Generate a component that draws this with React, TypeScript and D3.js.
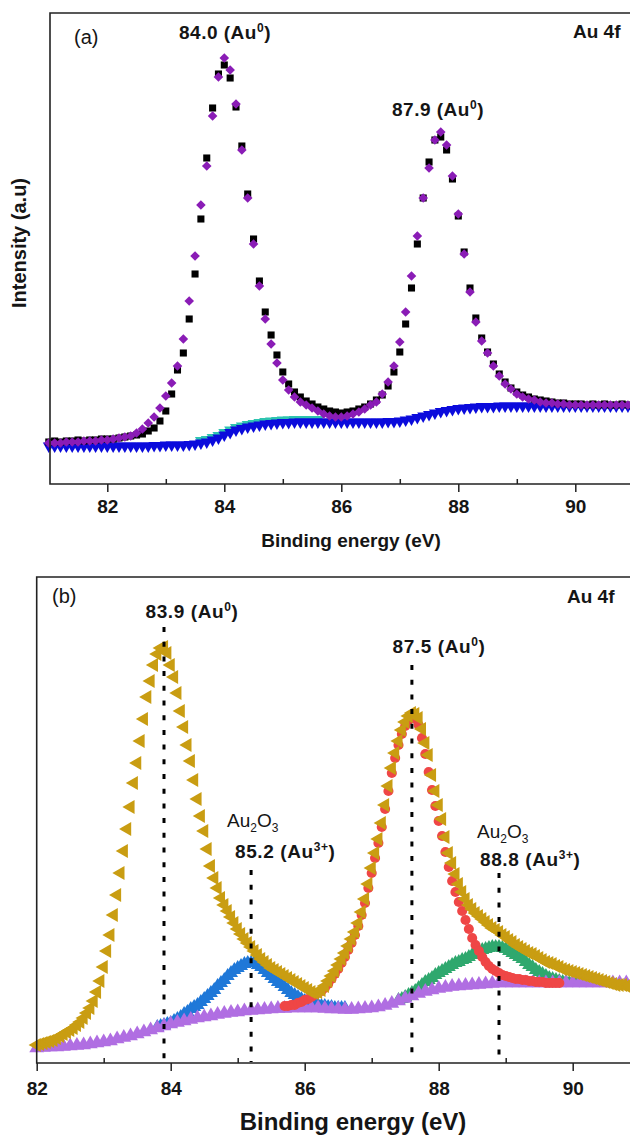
import React, { useEffect, useRef } from "react";
import * as d3 from "d3";

const FONT = "'Liberation Sans', Arial, Helvetica, sans-serif";

// ---------- panel (a) : Au 4f, one point every 0.1 eV from 81.0 eV ----------
const aStart = 81.0;
const aStep = 0.1;
const aRaw = [
  42, 43, 42, 43, 43, 44, 43, 44, 44, 45,
  45, 45, 46, 47, 48, 49, 50, 53, 56, 63,
  73, 90, 114, 131, 165, 210, 265, 326, 376, 410,
  419, 406, 377, 338, 290, 245, 203, 172, 149, 129,
  112, 100, 92, 87, 83, 80, 77, 75, 73, 72,
  71, 72, 73, 75, 77, 80, 84, 89, 98, 112,
  132, 160, 196, 240, 286, 322, 344, 347, 334, 305,
  268, 232, 196, 166, 146, 132, 120, 110, 102, 96,
  92, 89, 87, 85, 84, 83, 82, 81, 81, 80,
  80, 80, 79, 80, 79, 80, 79, 79, 80, 79, 79,
];
const aFit = [
  41, 41, 41, 42, 42, 42, 43, 43, 43, 44,
  44, 45, 46, 47, 48, 51, 55, 61, 67, 76,
  88, 101, 118, 145, 183, 228, 279, 318, 368, 407,
  426, 414, 380, 334, 286, 240, 198, 165, 140, 121,
  104, 94, 87, 82, 79, 76, 73, 70, 68, 67,
  67, 68, 70, 72, 75, 79, 82, 90, 102, 118,
  142, 172, 208, 248, 286, 316, 344, 352, 339, 308,
  270, 230, 192, 162, 143, 131, 118, 108, 100, 95,
  90, 87, 85, 84, 82, 81, 81, 80, 80, 79,
  79, 79, 79, 79, 79, 79, 79, 79, 79, 79, 79,
];
const aBackground = [
  38, 38, 38, 38, 38, 38, 38, 38, 38, 38,
  38, 38, 38, 38, 38, 38, 38, 38, 38.5, 38.5,
  39, 39, 39, 39, 39.5, 40, 41, 42, 44, 46,
  49, 51.5, 54, 55.5, 57, 58, 59, 60, 60.5, 61,
  61.5, 61.5, 62, 62, 62, 62, 62, 62, 62, 62,
  62, 62, 62, 62, 62, 62, 62, 62, 62.5, 62.5,
  63, 64, 65, 66.5, 68, 69.5, 71, 72.5, 73.5, 74.5,
  75.5, 76, 76.5, 77, 77.5, 77.5, 77.5, 78, 78, 78,
  78, 78, 78, 78, 78, 78, 78, 78, 78, 78,
  78, 78, 78, 78, 78, 78, 78, 78, 78, 78, 78,
];
const aShoulderStart = 83.6;
const aShoulder = [
  43.5, 44.5, 46.5, 48.5, 51.5, 54, 56.5, 58, 59.5, 60.5,
  61.5, 62.5, 63, 63.5, 64, 64, 64.5, 64.5, 64.5, 64.5, 64.5,
];
const aMajorTicks = [82, 84, 86, 88, 90];
const aMinorTicks = [83, 85, 87, 89];

// ---------- panel (b) : Au 4f fitted, 0.05 eV steps ----------
const bStep = 0.05;
const bEnvelopeStart = 82.0;
const bEnvelope = [
  18, 19, 20, 21, 22, 23, 25, 27, 29, 31, 33, 35, 38, 41, 45, 50, 55, 62, 71, 82,
  96, 112, 128, 148, 168, 190, 212, 234, 256, 280, 300, 322, 344, 366, 382, 398, 409, 415, 416, 410,
  398, 386, 370, 352, 336, 318, 302, 283, 264, 247, 232, 214, 197, 185, 175, 165, 158, 152, 146, 140,
  134, 129, 124, 120, 116, 112, 108, 104, 101, 98, 95, 93, 91, 89, 87, 85, 83, 81, 79, 77,
  75, 73, 71, 70, 71, 73, 77, 82, 87, 92, 98, 104, 110, 117, 124, 131, 140, 151, 164, 179,
  195, 210, 224, 240, 258, 277, 295, 310, 322, 333, 341, 347, 350, 349, 345, 334, 320, 308, 288, 272,
  258, 244, 226, 210, 200, 189, 179, 171, 164, 158, 154, 150, 147, 144, 141, 138, 135, 133, 131, 128,
  126, 123, 121, 118, 116, 114, 112, 110, 109, 107, 105, 103, 101, 100, 99, 97, 96, 94, 93, 92,
  91, 90, 89, 88, 87, 86, 85, 84, 83, 82, 81, 80, 79, 78, 78, 78, 77, 77,
];
const bAu0Start = 85.7;
const bAu0 = [
  57, 57, 58, 58, 60, 61, 63, 64, 66, 68, 70, 72, 75, 79, 84, 89, 94, 100, 106, 113,
  120, 128, 137, 148, 160, 175, 190, 205, 220, 236, 254, 272, 290, 305, 318, 329, 337, 343, 346, 344,
  338, 325, 309, 291, 273, 257, 242, 227, 211, 196, 182, 171, 161, 152, 143, 134, 125, 118, 112, 106,
  101, 97, 94, 92, 90, 88, 87, 86, 85, 84, 84, 83, 83, 82, 82, 81, 81, 81, 80, 80,
  80, 80, 80,
];
const bAu3aStart = 83.8;
const bAu3a = [
  36, 37, 38, 39, 40, 42, 44, 46, 49, 51, 54, 56, 58, 61, 64, 67, 70, 73, 77, 80,
  83, 87, 90, 93, 95, 97, 99, 100, 100, 100, 98, 96, 93, 90, 87, 84, 81, 79, 76, 73,
  70, 68, 66, 64, 62, 61, 60, 59, 58, 57, 57, 56, 56, 55, 55, 55, 55,
];
const bAu3bStart = 87.4;
const bAu3b = [
  63, 64, 66, 68, 70, 72, 75, 78, 81, 83, 85, 88, 90, 92, 94, 96, 98, 100, 101, 103,
  104, 106, 108, 110, 111, 113, 114, 115, 116, 116, 116, 115, 114, 112, 110, 108, 106, 104, 101, 98,
  96, 93, 91, 89, 87, 85, 84, 83, 82, 81, 81, 80, 80, 80, 80, 80, 80,
];
const bBackgroundStart = 82.0;
const bBackgroundStep = 0.1;
const bBackground = [
  15, 15.5, 16, 16, 16.5, 17, 17.5, 18, 19, 20,
  21, 22, 24, 25.5, 27, 29, 31, 33, 35, 37,
  39, 40.5, 42, 43.5, 45, 46, 47, 48.5, 49.5, 50.5,
  51, 52, 52.5, 53, 53.5, 54, 54.5, 54.5, 55, 55,
  55, 55, 55, 54.5, 54, 54, 53.5, 53.5, 54, 54.5,
  55, 56, 57.5, 59.5, 62, 64.5, 67, 69.5, 71.5, 73,
  74.5, 75.5, 76.5, 77, 77.5, 78, 78.5, 79, 79.5, 80,
  80, 80, 80, 80, 80, 80, 80, 80, 80, 80,
  80, 80, 80, 80, 80, 80, 80, 80, 80,
];
const bMajorTicks = [82, 84, 86, 88, 90];
const bMinorTicks = [83, 85, 87, 89];
const bPeakLines = [83.9, 85.2, 87.6, 88.9];
const bPeakLineTops = [436, 193, 398, 190];

type Part = { t: string; sh?: number };

function label(g: any, x: number, y: number, parts: Part[], size = 19, weight = "bold", anchor = "start", spacing = 0) {
  const txt = g
    .append("text")
    .attr("x", x)
    .attr("y", y)
    .attr("font-family", FONT)
    .attr("font-size", size)
    .attr("font-weight", weight)
    .attr("text-anchor", anchor)
    .attr("letter-spacing", spacing)
    .attr("fill", "#151515");
  let shift = 0;
  parts.forEach((p) => {
    const s = p.sh ?? 0;
    txt
      .append("tspan")
      .attr("dy", s - shift)
      .attr("font-size", s ? Math.round(size * 0.62) : size)
      .text(p.t);
    shift = s;
  });
}

function scatter(g: any, start: number, step: number, values: number[], x: any, y: any, type: any, size: number, color: string, rotate = 0) {
  const d = d3.symbol().type(type).size(size)();
  g.append("g")
    .selectAll("path")
    .data(values)
    .join("path")
    .attr("d", d)
    .attr("fill", color)
    .attr("transform", (v: number, i: number) => `translate(${x(start + i * step)},${y(v)}) rotate(${rotate})`);
}

function frame(g: any, x: any, left: number, right: number, top: number, bottom: number, major: number[], minor: number[], pad: number) {
  const ax = g
    .append("g")
    .attr("transform", `translate(0,${bottom})`)
    .call(d3.axisBottom(x).tickValues(major).tickSizeInner(8).tickSizeOuter(0).tickPadding(pad).tickFormat(d3.format("d")));
  ax.select(".domain").remove();
  ax.selectAll("line").attr("stroke", "#222").attr("stroke-width", 1.5);
  ax.selectAll("text")
    .attr("font-family", FONT)
    .attr("font-size", 19)
    .attr("font-weight", "bold")
    .attr("fill", "#151515");
  const mn = g
    .append("g")
    .attr("transform", `translate(0,${bottom})`)
    .call(d3.axisBottom(x).tickValues(minor).tickSizeInner(-5).tickSizeOuter(0).tickFormat(() => ""));
  mn.select(".domain").remove();
  mn.selectAll("line").attr("stroke", "#222").attr("stroke-width", 1.5);
  g.append("path")
    .attr("d", `M${right},${top}H${left}V${bottom}H${right}`)
    .attr("fill", "none")
    .attr("stroke", "#222")
    .attr("stroke-width", 1.6);
}

function drawA(g: any) {
  const x = d3.scaleLinear().domain([81, 91]).range([48.8, 633.8]);
  const y = d3.scaleLinear().domain([0, 471]).range([484, 13]);

  scatter(g, aShoulderStart, aStep, aShoulder, x, y, d3.symbolTriangle, 62, "#2ec4b0", 180);
  scatter(g, aStart, aStep, aBackground, x, y, d3.symbolTriangle, 62, "#0b0bdc", 180);
  scatter(g, aStart, aStep, aRaw, x, y, d3.symbolSquare, 50, "#000000");
  scatter(g, aStart, aStep, aFit, x, y, d3.symbolSquare, 46, "#8a1cb6", 45);

  frame(g, x, 50, 630, 13, 484, aMajorTicks, aMinorTicks, 8);

  label(g, 351, 547, [{ t: "Binding energy (eV)" }], 19, "bold", "middle");
  g.append("text")
    .attr("transform", "translate(26,243) rotate(-90)")
    .attr("text-anchor", "middle")
    .attr("font-family", FONT)
    .attr("font-size", 20)
    .attr("font-weight", "bold")
    .attr("fill", "#151515")
    .text("Intensity (a.u)");

  label(g, 74, 44, [{ t: "(a)" }], 20, "normal");
  label(g, 573, 38, [{ t: "Au 4f" }]);
  label(g, 225, 39, [{ t: "84.0 (Au" }, { t: "0", sh: -7 }, { t: ")" }], 19, "bold", "middle", 0.5);
  label(g, 438, 116, [{ t: "87.9 (Au" }, { t: "0", sh: -7 }, { t: ")" }], 19, "bold", "middle", 0.5);
}

function drawB(g: any) {
  const x = d3.scaleLinear().domain([82, 91]).range([36.7, 639.7]);
  const y = d3.scaleLinear().domain([0, 486]).range([1063, 577]);

  scatter(g, bAu3aStart, bStep, bAu3a, x, y, d3.symbolTriangle, 85, "#1f78d8");
  scatter(g, bAu3bStart, bStep, bAu3b, x, y, d3.symbolTriangle, 85, "#2fa86e");
  scatter(g, bBackgroundStart, bBackgroundStep, bBackground, x, y, d3.symbolTriangle, 95, "#b06ee2");
  scatter(g, bAu0Start, bStep, bAu0, x, y, d3.symbolCircle, 80, "#ef4646");
  scatter(g, bEnvelopeStart, bStep, bEnvelope, x, y, d3.symbolTriangle, 85, "#c99d12", -90);

  g.append("g")
    .selectAll("line")
    .data(bPeakLines)
    .join("line")
    .attr("x1", (d: number) => x(d))
    .attr("x2", (d: number) => x(d))
    .attr("y1", (_: number, i: number) => y(bPeakLineTops[i]))
    .attr("y2", y(0) - 1)
    .attr("stroke", "#000")
    .attr("stroke-width", 3)
    .attr("stroke-dasharray", "5 9.7");

  frame(g, x, 36.7, 630, 577, 1063, bMajorTicks, bMinorTicks, 10.5);

  label(g, 353, 1130, [{ t: "Binding energy (eV)" }], 24, "bold", "middle");
  label(g, 52, 603, [{ t: "(b)" }], 20, "normal");
  label(g, 567, 603, [{ t: "Au 4f" }]);
  label(g, 192, 618, [{ t: "83.9 (Au" }, { t: "0", sh: -7 }, { t: ")" }], 19, "bold", "middle", 0.6);
  label(g, 439, 653, [{ t: "87.5 (Au" }, { t: "0", sh: -7 }, { t: ")" }], 19, "bold", "middle", 0.6);
  label(g, 227, 827, [{ t: "Au" }, { t: "2", sh: 5 }, { t: "O" }, { t: "3", sh: 5 }], 19, "normal");
  label(g, 235, 858, [{ t: "85.2 (Au" }, { t: "3+", sh: -7 }, { t: ")" }], 19, "bold", "start", 0.6);
  label(g, 477, 838, [{ t: "Au" }, { t: "2", sh: 5 }, { t: "O" }, { t: "3", sh: 5 }], 19, "normal");
  label(g, 480, 866, [{ t: "88.8 (Au" }, { t: "3+", sh: -7 }, { t: ")" }], 19, "bold", "start", 0.6);
}

export default function App() {
  const svgRef = useRef<SVGSVGElement>(null);

  useEffect(() => {
    const svg = d3.select(svgRef.current);
    svg.selectAll("*").remove();
    drawA(svg.append("g"));
    drawB(svg.append("g"));
  }, []);

  return (
    <svg
      ref={svgRef}
      width={630}
      height={1135}
      style={{ position: "absolute", left: 0, top: 0, background: "#fff" }}
    />
  );
}
